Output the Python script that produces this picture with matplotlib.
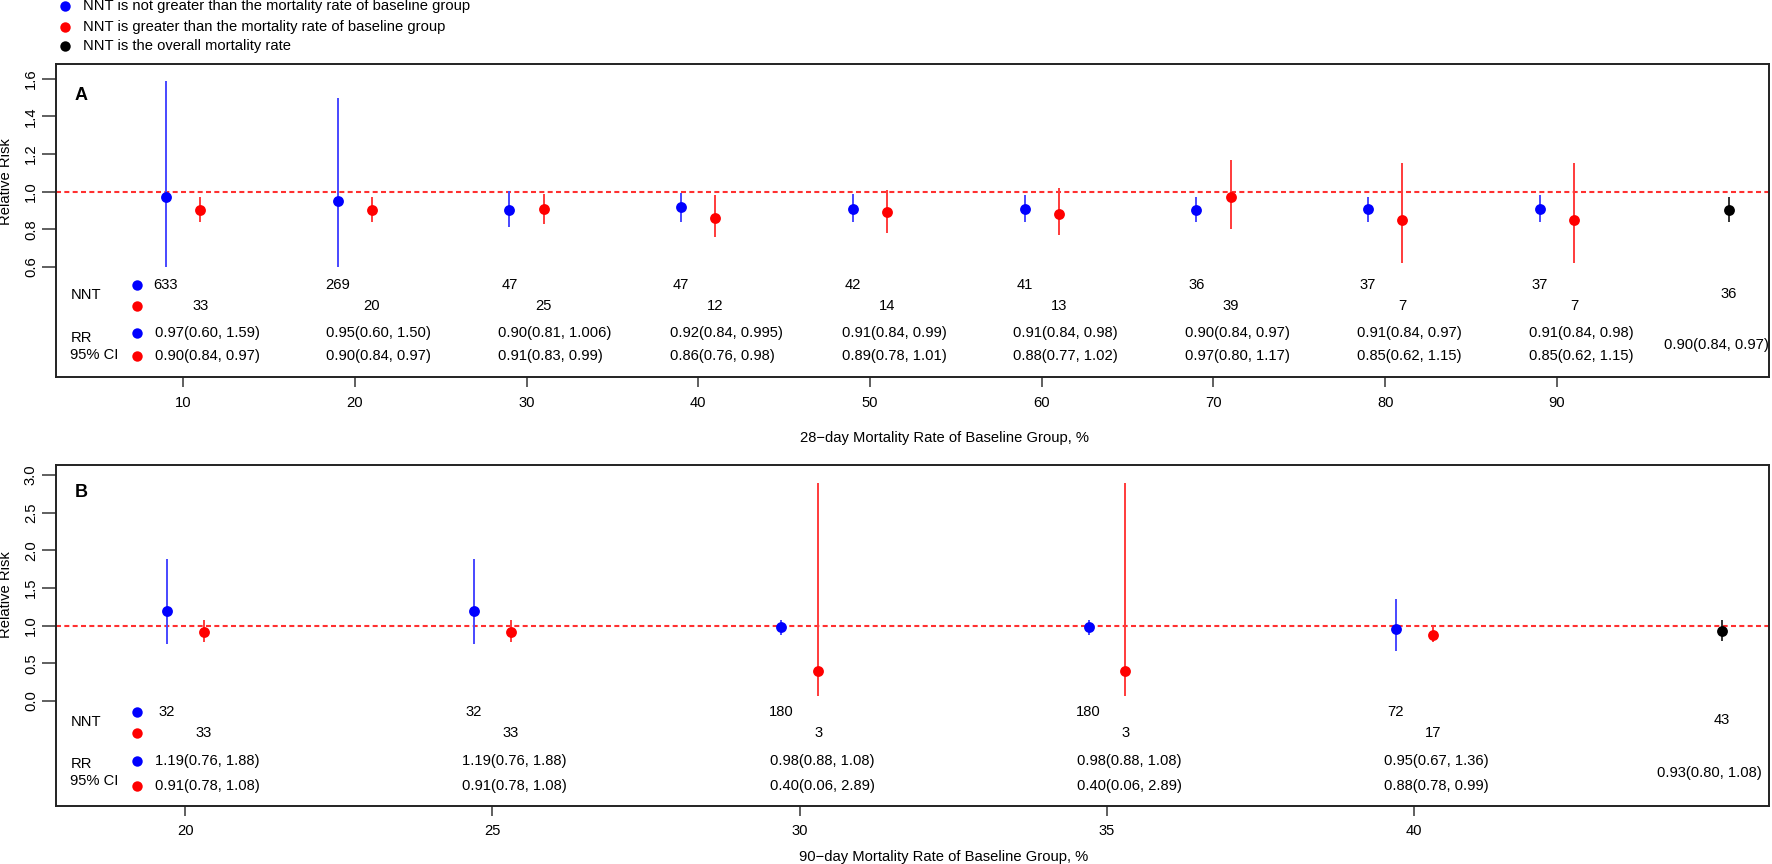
import matplotlib
matplotlib.use("Agg")
import matplotlib.pyplot as plt
import matplotlib.transforms as mtransforms

plt.rcParams.update({
    "font.family": ["Liberation Sans", "DejaVu Sans"],
    "font.size": 10.6,
    "axes.linewidth": 1.4,
})

BLUE = "#0000ff"
RED = "#ff0000"
BLUE_LINE = "#4747ff"
RED_LINE = "#ff3b3b"
BLACK_LINE = "#333333"

# ---- Panel A: 28-day mortality ----
A_RATES = [10, 20, 30, 40, 50, 60, 70, 80, 90]
A_BLUE_RR = [0.97, 0.95, 0.90, 0.92, 0.91, 0.91, 0.90, 0.91, 0.91]
A_BLUE_LO = [0.60, 0.60, 0.81, 0.84, 0.84, 0.84, 0.84, 0.84, 0.84]
A_BLUE_HI = [1.59, 1.50, 1.006, 0.995, 0.99, 0.98, 0.97, 0.97, 0.98]
A_RED_RR = [0.90, 0.90, 0.91, 0.86, 0.89, 0.88, 0.97, 0.85, 0.85]
A_RED_LO = [0.84, 0.84, 0.83, 0.76, 0.78, 0.77, 0.80, 0.62, 0.62]
A_RED_HI = [0.97, 0.97, 0.99, 0.98, 1.01, 1.02, 1.17, 1.15, 1.15]
A_BLUE_NNT = [633, 269, 47, 47, 42, 41, 36, 37, 37]
A_RED_NNT = [33, 20, 25, 12, 14, 13, 39, 7, 7]
A_ALL_X = 100
A_ALL = (0.90, 0.84, 0.97)
A_ALL_NNT = 36

# ---- Panel B: 90-day mortality ----
B_RATES = [20, 25, 30, 35, 40]
B_BLUE_RR = [1.19, 1.19, 0.98, 0.98, 0.95]
B_BLUE_LO = [0.76, 0.76, 0.88, 0.88, 0.67]
B_BLUE_HI = [1.88, 1.88, 1.08, 1.08, 1.36]
B_RED_RR = [0.91, 0.91, 0.40, 0.40, 0.88]
B_RED_LO = [0.78, 0.78, 0.06, 0.06, 0.78]
B_RED_HI = [1.08, 1.08, 2.89, 2.89, 0.99]
B_BLUE_NNT = [32, 32, 180, 180, 72]
B_RED_NNT = [33, 33, 3, 3, 17]
B_ALL_X = 45
B_ALL = (0.93, 0.80, 1.08)
B_ALL_NNT = 43

LEGEND_LABELS = [
    "NNT is not greater than the mortality rate of baseline group",
    "NNT is greater than the mortality rate of baseline group",
    "NNT is the overall mortality rate",
]


def fmt(v):
    """数值保留至少两位小数(1.006 这类保留三位)。"""
    s = f"{v:.3f}".rstrip("0")
    if len(s.split(".")[1]) < 2:
        s = f"{v:.2f}"
    return s


def rr_text(rr, lo, hi):
    return f"{fmt(rr)}({fmt(lo)}, {fmt(hi)})"


def draw_panel(ax, rates, shift, blue, red, nnt_b, nnt_r, all_x, overall, all_nnt,
               xlim, ylim, yticks, xlabel, letter, rows, txt_dx, all_dx):
    xb = [r - shift for r in rates]
    xr = [r + shift for r in rates]
    ax.set_xlim(*xlim)
    ax.set_ylim(*ylim)

    ax.axhline(1.0, color="#ff3030", lw=1.5, ls=(0, (2.4, 1.6)), zorder=1)

    ax.vlines(xb, blue[1], blue[2], color=BLUE_LINE, lw=1.4, zorder=2)
    ax.vlines(xr, red[1], red[2], color=RED_LINE, lw=1.4, zorder=2)
    ax.vlines([all_x], [overall[1]], [overall[2]], color=BLACK_LINE, lw=1.4, zorder=2)
    ax.plot(xb, blue[0], "o", color=BLUE, ms=7.8, mec="none", zorder=3)
    ax.plot(xr, red[0], "o", color=RED, ms=7.8, mec="none", zorder=3)
    ax.plot([all_x], [overall[0]], "o", color="black", ms=7.8, mec="none", zorder=3)

    # 下方表格:NNT 与 RR(95% CI)
    tr = mtransforms.blended_transform_factory(ax.transData, ax.transAxes)
    y_nb, y_nr, y_rb, y_rr, y_lnnt, y_lrr, y_lci, y_ann, y_arr = rows
    for x, n in zip(xb, nnt_b):
        ax.text(x, y_nb, str(n), transform=tr, ha="center", va="center")
    for x, n in zip(xr, nnt_r):
        ax.text(x, y_nr, str(n), transform=tr, ha="center", va="center")
    for x, r, lo, hi in zip(xb, *blue):
        ax.text(x + txt_dx, y_rb, rr_text(r, lo, hi), transform=tr, ha="left", va="center")
    for x, r, lo, hi in zip(xb, *red):
        ax.text(x + txt_dx, y_rr, rr_text(r, lo, hi), transform=tr, ha="left", va="center")
    ax.text(all_x, y_ann, str(all_nnt), transform=tr, ha="center", va="center")
    ax.text(all_x + all_dx, y_arr, rr_text(*overall), transform=tr, ha="center", va="center")

    ax.text(0.0084, y_lnnt, "NNT", transform=ax.transAxes, ha="left", va="center")
    ax.text(0.0084, y_lrr, "RR", transform=ax.transAxes, ha="left", va="center")
    ax.text(0.0080, y_lci, "95% CI", transform=ax.transAxes, ha="left", va="center")
    for yy, c in zip((y_nb, y_nr, y_rb, y_rr), (BLUE, RED, BLUE, RED)):
        ax.plot([0.0475], [yy], "o", color=c, ms=7.5, mec="none",
                transform=ax.transAxes, clip_on=False)

    ax.text(0.0146, letter[1], letter[0], transform=ax.transAxes, ha="center",
            va="center", fontsize=13, fontweight="bold")

    ax.set_xticks(rates)
    ax.set_xticklabels([str(r) for r in rates])
    ax.set_yticks(yticks)
    ax.set_yticklabels([f"{t:.1f}" for t in yticks])
    ax.tick_params(axis="x", length=7, width=1.2, pad=6.5, color="#444444")
    ax.tick_params(axis="y", length=10, width=1.2, pad=3, color="#444444",
                   labelrotation=90)
    for lab in ax.get_yticklabels():
        lab.set_va("center")
    for s in ax.spines.values():
        s.set_color("#222222")

    ax.text(0.5184, xlabel[1], xlabel[0], transform=ax.transAxes,
            ha="center", va="center")
    ax.text(-0.0292, letter[2], "Relative Risk", transform=ax.transAxes,
            rotation=90, ha="center", va="center")


fig = plt.figure(figsize=(17.72, 8.64), dpi=100)
ax_a = fig.add_axes([0.0316, 0.5637, 0.9667, 0.3622])
ax_b = fig.add_axes([0.0316, 0.0675, 0.9667, 0.3943])

draw_panel(ax_a, A_RATES, 1.0,
           (A_BLUE_RR, A_BLUE_LO, A_BLUE_HI), (A_RED_RR, A_RED_LO, A_RED_HI),
           A_BLUE_NNT, A_RED_NNT, A_ALL_X, A_ALL, A_ALL_NNT,
           xlim=(2.6, 102.35), ylim=(0.014, 1.679),
           yticks=[0.6, 0.8, 1.0, 1.2, 1.4, 1.6],
           xlabel=("28\u2212day Mortality Rate of Baseline Group, %", -0.196),
           letter=("A", 0.899, 0.624),
           rows=(0.294, 0.227, 0.1396, 0.067, 0.262, 0.124, 0.070, 0.264, 0.102),
           txt_dx=-0.65, all_dx=-0.7)

draw_panel(ax_b, B_RATES, 0.3,
           (B_BLUE_RR, B_BLUE_LO, B_BLUE_HI), (B_RED_RR, B_RED_LO, B_RED_HI),
           B_BLUE_NNT, B_RED_NNT, B_ALL_X, B_ALL, B_ALL_NNT,
           xlim=(17.9, 45.77), ylim=(-1.39, 3.133),
           yticks=[0.0, 0.5, 1.0, 1.5, 2.0, 2.5, 3.0],
           xlabel=("90\u2212day Mortality Rate of Baseline Group, %", -0.150),
           letter=("B", 0.92, 0.621),
           rows=(0.276, 0.2125, 0.132, 0.059, 0.2446, 0.1224, 0.0734, 0.2515, 0.095),
           txt_dx=-0.19, all_dx=-0.2)

# 顶部图例
leg_y = [1 - 5.7 / 864, 1 - 26.7 / 864, 1 - 45.7 / 864]
for yy, c, lab in zip(leg_y, (BLUE, RED, "black"), LEGEND_LABELS):
    fig.add_artist(plt.Line2D([0.0367], [yy], marker="o", color=c, ms=7.5,
                              mec="none", ls="none", transform=fig.transFigure))
    fig.text(0.0471, yy, lab, ha="left", va="center")

fig.savefig("out.png", dpi=100)
